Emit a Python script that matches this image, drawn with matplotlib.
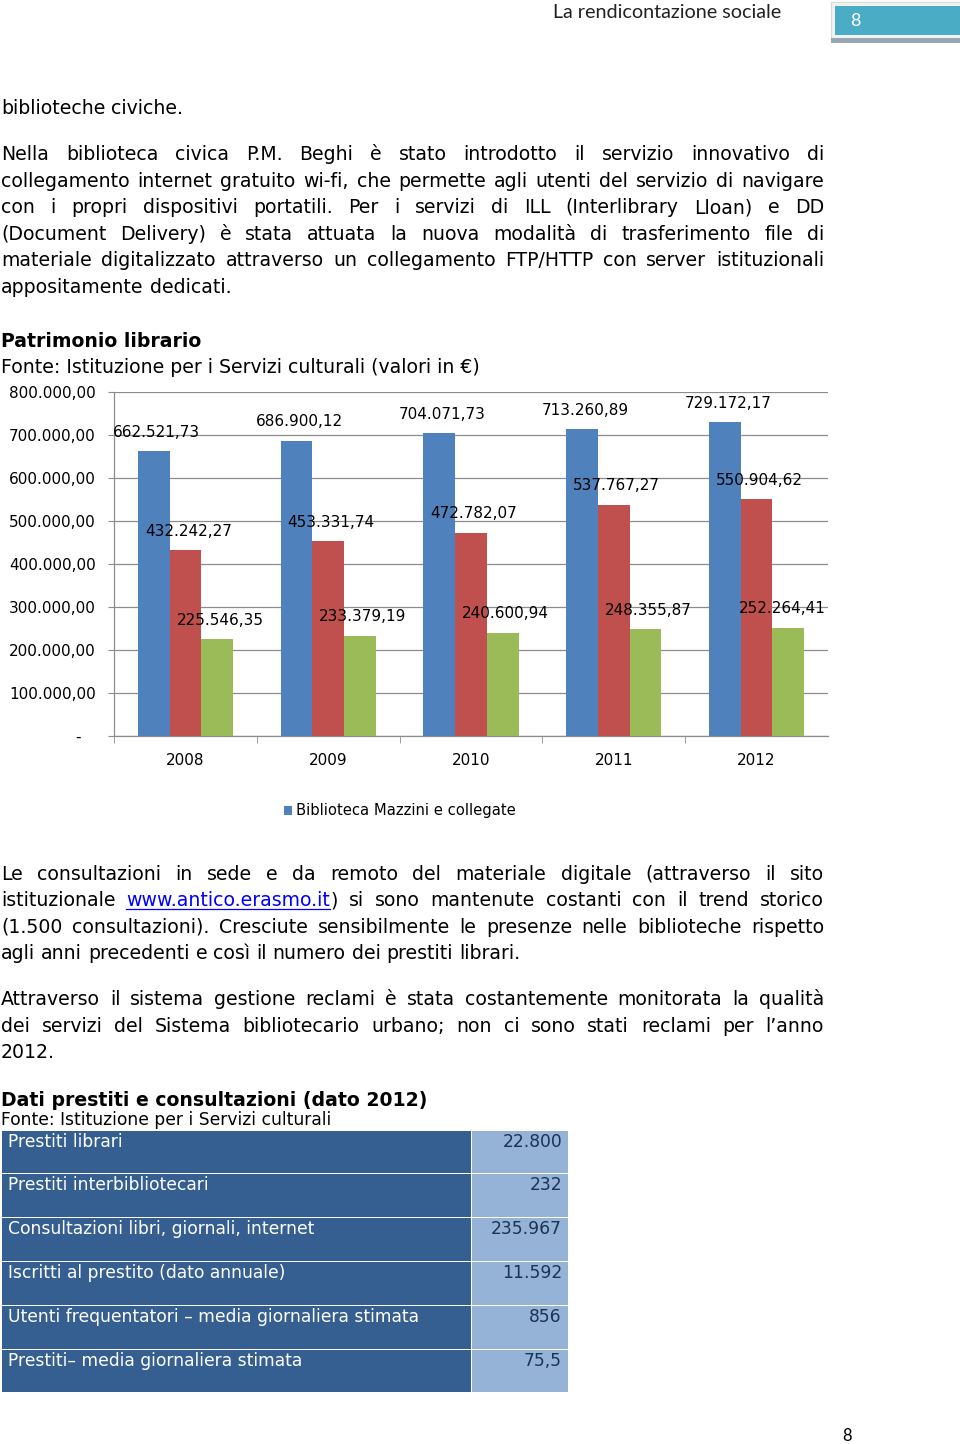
import matplotlib
matplotlib.use("Agg")
import matplotlib.pyplot as plt
import numpy as np
from matplotlib.patches import Rectangle
from matplotlib.ticker import FuncFormatter, FixedLocator

# chart data (valori in euro)
years = ["2008", "2009", "2010", "2011", "2012"]
mazzini = [662521.73, 686900.12, 704071.73, 713260.89, 729172.17]
serie_2 = [432242.27, 453331.74, 472782.07, 537767.27, 550904.62]
serie_3 = [225546.35, 233379.19, 240600.94, 248355.87, 252264.41]
legend_label = "Biblioteca Mazzini e collegate"

# table data (dato 2012)
table_labels = ["Prestiti librari", "Prestiti interbibliotecari",
                "Consultazioni libri, giornali, internet",
                "Iscritti al prestito (dato annuale)",
                "Utenti frequentatori \u2013 media giornaliera stimata",
                "Prestiti\u2013 media giornaliera stimata"]
table_values = ["22.800", "232", "235.967", "11.592", "856", "75,5"]

# page text, line by line as in the document
para1 = ["biblioteche civiche."]
para2 = ["Nella biblioteca civica P.M. Beghi è stato introdotto il servizio innovativo di",
         "collegamento internet gratuito wi-fi, che permette agli utenti del servizio di navigare",
         "con i propri dispositivi portatili. Per i servizi di ILL (Interlibrary Lloan) e DD",
         "(Document Delivery) è stata attuata la nuova modalità di trasferimento file di",
         "materiale digitalizzato attraverso un collegamento FTP/HTTP con server istituzionali",
         "appositamente dedicati."]
para3 = ["Le consultazioni in sede e da remoto del materiale digitale (attraverso il sito",
         "istituzionale [www.antico.erasmo.it]) si sono mantenute costanti con il trend storico",
         "(1.500 consultazioni). Cresciute sensibilmente le presenze nelle biblioteche rispetto",
         "agli anni precedenti e così il numero dei prestiti librari."]
para4 = ["Attraverso il sistema gestione reclami è stata costantemente monitorata la qualità",
         "dei servizi del Sistema bibliotecario urbano; non ci sono stati reclami per l\u2019anno",
         "2012."]

BODY = 13.6
BLUE, RED, GREEN = "#4F81BD", "#C0504D", "#9BBB59"
GRID = "#8C8C8C"

fig = plt.figure(figsize=(9.6, 14.44), dpi=100)
page = fig.add_axes([0, 0, 1, 1])
page.set_xlim(0, 960)
page.set_ylim(1444, 0)
page.axis("off")
renderer = fig.canvas.get_renderer()


def put_line(text, y, justify=True, x0=1, x1=824, size=BODY):
    # split into words, a word in [] is drawn as a link
    words = []
    for w in text.split(" "):
        segs = []
        if "[" in w:
            pre, rest = w.split("[")
            link, post = rest.split("]")
            for s, kind in ((pre, "n"), (link, "l"), (post, "n")):
                if s:
                    segs.append((s, kind))
        else:
            segs.append((w, "n"))
        words.append(segs)
    drawn = []
    total = 0
    for segs in words:
        parts = []
        wd = 0
        for s, kind in segs:
            t = page.text(0, y, s, fontsize=size, va="baseline",
                          color="#0000FF" if kind == "l" else "black")
            ew = t.get_window_extent(renderer).width
            parts.append((t, ew, kind))
            wd += ew
        drawn.append((parts, wd))
        total += wd
    space = size * 100 / 72 * 0.318
    if justify and len(drawn) > 1:
        space = (x1 - x0 - total) / (len(drawn) - 1)
    x = x0
    for parts, wd in drawn:
        for t, ew, kind in parts:
            t.set_x(x)
            if kind == "l":
                page.plot([x, x + ew], [y + 3, y + 3], color="#0000FF", lw=0.9)
            x += ew
        x += space


def put_para(lines, y0, pitch=26.6):
    for i, ln in enumerate(lines):
        put_line(ln, y0 + i * pitch, justify=(i < len(lines) - 1))


# header
page.text(553, 12, "La rendicontazione sociale", fontsize=14.2, family="Lato",
          va="center", color="#222222")
page.add_patch(Rectangle((831, 2), 130, 37, facecolor="#F2F2F2", edgecolor="#D8D8D8", lw=0.8))
page.add_patch(Rectangle((835, 6), 125, 29, facecolor="#4BACC6", edgecolor="none"))
page.add_patch(Rectangle((831, 38), 130, 5, facecolor="#98A8B0", edgecolor="none"))
page.text(850, 21, "8", fontsize=13, family="Lato", color="white", va="center")

put_para(para1, 114)
put_para(para2, 160)

page.text(1, 347, "Patrimonio librario", fontsize=BODY, weight="bold", va="baseline")
page.text(1, 373, "Fonte: Istituzione per i Servizi culturali (valori in \u20ac)",
          fontsize=BODY, va="baseline")

# bar chart
W, H = 960, 1444
ax = fig.add_axes([114 / W, (H - 736) / H, (828 - 114) / W, (736 - 392) / H])
x = np.arange(len(years))
bw = 1 / 4.5
bars = ax.bar(x - bw, mazzini, bw, color=BLUE, label=legend_label, zorder=3)
ax.bar(x, serie_2, bw, color=RED, zorder=3)
ax.bar(x + bw, serie_3, bw, color=GREEN, zorder=3)


def eur(v):
    s = f"{v:,.2f}"
    return s.replace(",", "X").replace(".", ",").replace("X", ".")


ax.set_xlim(-0.5, len(years) - 0.5)
ax.set_ylim(0, 800000)

for off, vals in ((-bw, mazzini), (0, serie_2), (bw, serie_3)):
    for xi, v in zip(x, vals):
        a = ax.annotate(eur(v), (xi + off, v), xytext=(3, 19), textcoords="offset pixels",
                        ha="center", va="center", fontsize=11, zorder=4)
        # keep labels inside the plot area, as the spreadsheet does
        ext = a.get_window_extent(renderer)
        if ext.x1 > 827:
            a.xyann = (3 - (ext.x1 - 826), 19)

ax.set_yticks(np.arange(0, 800001, 100000))
ax.yaxis.set_major_formatter(FuncFormatter(lambda v, p: "-   " if v == 0 else eur(v)))
ax.yaxis.grid(True, color=GRID, lw=0.9, zorder=0)
ax.tick_params(axis="y", length=4, color=GRID, labelsize=11, pad=9)
ax.set_xticks(x)
ax.set_xticklabels(years)
ax.xaxis.set_minor_locator(FixedLocator(np.arange(-0.5, len(years) - 1, 1.0)))
ax.tick_params(axis="x", which="major", length=0, labelsize=11, pad=12)
ax.tick_params(axis="x", which="minor", length=5, color=GRID)
for s in ("top", "right"):
    ax.spines[s].set_visible(False)
for s in ("left", "bottom"):
    ax.spines[s].set_color(GRID)
    ax.spines[s].set_linewidth(0.9)

fig.legend(handles=[bars], loc="center", bbox_to_anchor=(400 / W, 1 - 811 / H),
           frameon=False, fontsize=10.6, handlelength=0.55, handleheight=0.55,
           handletextpad=0.3)

put_para(para3, 879.5)
put_para(para4, 1005)

page.text(1, 1106, "Dati prestiti e consultazioni (dato 2012)", fontsize=BODY,
          weight="bold", va="baseline")
page.text(1, 1125, "Fonte: Istituzione per i Servizi culturali", fontsize=12.3, va="baseline")

# table
rows = [1131, 1174, 1218, 1262, 1306, 1350, 1393]
for i, (lab, val) in enumerate(zip(table_labels, table_values)):
    top, bot = rows[i], rows[i + 1]
    page.add_patch(Rectangle((2, top), 469, bot - top - 1.5, facecolor="#365F91", edgecolor="none"))
    page.add_patch(Rectangle((472, top), 96, bot - top - 1.5, facecolor="#95B3D7", edgecolor="none"))
    page.text(8, top + 16, lab, fontsize=12.3, color="white", va="baseline")
    page.text(562, top + 16, val, fontsize=12.3, color="#1B3354", va="baseline", ha="right")

page.text(842, 1441, "8", fontsize=12, family="Lato", va="baseline")

fig.savefig("out.png", dpi=100)
